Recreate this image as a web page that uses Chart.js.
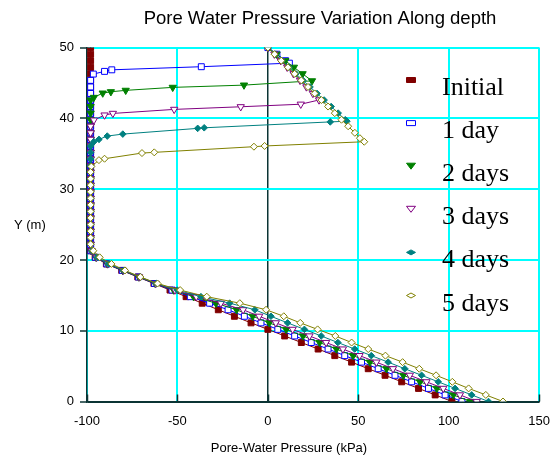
<!DOCTYPE html>
<html>
<head>
<meta charset="utf-8">
<title>Pore Water Pressure Variation Along depth</title>
<script src="https://cdn.jsdelivr.net/npm/chart.js@4.4.1/dist/chart.umd.min.js"></script>
<style>
  html, body { margin: 0; padding: 0; background: #fff; }
  #wrap { width: 554px; height: 457px; }
</style>
</head>
<body>
<div id="wrap"><canvas id="pwp-chart" width="554" height="457"></canvas></div>
<script>
// elevations (m) of the mesh nodes in the column
const elevWall = [50, 49.07, 48.15, 47.22, 46.30, 45.37, 44.44, 43.52, 42.59, 41.67, 40.74,
  39.81, 38.89, 37.96, 37.04, 36.11, 35.19, 34.26, 33.33, 32.41, 31.48, 30.56, 29.63,
  28.70, 27.78, 26.85, 25.93, 25.00, 24.07, 23.15, 22.22];
const elevLower = [0, 0.93, 1.85, 2.78, 3.70, 4.63, 5.56, 6.48, 7.41, 8.33, 9.26, 10.19,
  11.11, 12.04, 12.96, 13.89, 14.81, 15.74, 16.67, 17.59, 18.52, 19.44, 20.37, 21.30];

// suction limit above the wetting front (kPa)
const suction = -98;

const seriesNames = ["Initial", "1 day", "2 days", "3 days", "4 days", "5 days"];

// wetting front: [pressure kPa, elevation m], top down
const initialFront = [];
const day1Front = [[0, 50], [5, 49.07], [9.8, 48.15], [11.9, 47.8], [-36.8, 47.3],
  [-86.3, 46.86], [-90.3, 46.64], [-96.5, 46.26]];
const day2Front = [[0, 50], [4.8, 49.07], [9.6, 48.15], [14.4, 47.22], [19.2, 46.3],
  [24.4, 45.3], [-13.2, 44.7], [-52.6, 44.38], [-78.6, 43.96], [-86.8, 43.76],
  [-91.3, 43.57], [-96.2, 42.96]];
const day3Front = [[0, 50], [3.6, 49.07], [7.1, 48.15], [10.7, 47.22], [14.2, 46.3],
  [17.8, 45.37], [21.3, 44.44], [24.9, 43.52], [28.3, 42.6], [18.2, 42.0], [-15, 41.64],
  [-51.8, 41.27], [-85.7, 40.7], [-90.3, 40.47], [-96.2, 39.76]];
const day4Front = [[0, 50], [3.9, 49.07], [7.8, 48.15], [11.7, 47.22], [15.5, 46.3],
  [19.4, 45.37], [23.3, 44.44], [27.2, 43.52], [31.1, 42.59], [35, 41.67], [38.9, 40.74],
  [42.8, 39.81], [43.7, 39.6], [34.5, 39.5], [-35.2, 38.67], [-38.8, 38.59],
  [-80.2, 37.78], [-88.8, 37.5], [-93.4, 37.03], [-96.2, 36.7]];
const day5Front = [[0, 50], [3.7, 49.07], [7.4, 48.15], [11.1, 47.22], [14.8, 46.3],
  [18.5, 45.37], [22.2, 44.44], [25.9, 43.52], [29.6, 42.59], [33.3, 41.67], [37, 40.74],
  [40.7, 39.81], [44.4, 38.89], [48.1, 37.96], [50.9, 37.2], [53.3, 36.7], [-1.8, 36.1],
  [-7.7, 36.0], [-62.8, 35.2], [-69.6, 35.1], [-90.3, 34.3], [-93.4, 34.1], [-97.6, 33.2]];

// pressures (kPa) at elevLower
const initialLower = [101.8, 92.5, 83.3, 74.0, 64.8, 55.5, 46.3, 37.0, 27.8, 18.5, 9.3, 0.0,
  -9.3, -18.5, -27.4, -36.3, -45.2, -54.1, -63.0, -71.9, -80.8, -89.3, -95.5, -98];
const day1Lower = [107.3, 98.0, 88.8, 79.5, 70.3, 61.0, 51.8, 42.5, 33.3, 24.0, 14.8, 5.5,
  -3.8, -13.0, -22.0, -32.2, -42.9, -53.0, -62.6, -71.6, -80.5, -89.0, -95.2, -97.8];
const day2Lower = [111.9, 102.6, 93.4, 84.1, 74.9, 65.6, 56.4, 47.1, 37.9, 28.6, 19.4, 10.1,
  0.8, -8.4, -17.3, -28.7, -41.1, -52.1, -62.3, -71.4, -80.3, -88.8, -95.0, -97.7];
const day3Lower = [115.5, 106.2, 97.0, 87.7, 78.5, 69.2, 60.0, 50.7, 41.5, 32.2, 23.0, 13.7,
  4.4, -4.8, -13.7, -26.0, -39.6, -51.4, -62.0, -71.1, -80.0, -88.5, -94.7, -97.5];
const day4Lower = [122.0, 112.7, 103.5, 94.2, 85.0, 75.7, 66.5, 57.2, 48.0, 38.7, 29.5, 20.2,
  10.9, 1.7, -7.2, -21.1, -37.0, -50.1, -61.6, -70.7, -79.6, -88.1, -94.3, -97.2];
const day5Lower = [130.0, 120.5, 111.0, 102.0, 93.0, 83.7, 74.5, 65.0, 55.5, 46.3, 37.3, 27.5,
  17.9, 8.8, -1.0, -15.5, -33.8, -48.5, -61.0, -70.5, -79.0, -86.5, -93.0, -96.5];

const xTicks = [-100, -50, 0, 50, 100, 150];
const yTicks = [0, 10, 20, 30, 40, 50];

const colors = ["#800000", "#0000ff", "#008000", "#800080", "#008080", "#808000"];
const markers = [
  { style: "rect", rot: 0, r: 4.2, filled: true },
  { style: "rect", rot: 0, r: 4.2, filled: false },
  { style: "triangle", rot: 180, r: 4.2, filled: true },
  { style: "triangle", rot: 180, r: 4.2, filled: false },
  { style: "rectRot", rot: 0, r: 3.3, filled: true },
  { style: "rectRot", rot: 0, r: 3.5, filled: false },
];

const gridCyan = "#00ffff";
const axisDark = "#0b3434";

// front, then the suction wall, then the lower profile down to the base
const toPoints = (front, lower) => {
  const lastY = front.length ? front[front.length - 1][1] : Infinity;
  const pts = front.map(([x, y]) => ({ x: x, y: y }));
  elevWall.filter((y) => y < lastY).forEach((y) => pts.push({ x: suction, y: y }));
  for (let i = lower.length - 1; i >= 0; i--) {
    pts.push({ x: lower[i], y: elevLower[i] });
  }
  return pts;
};

const fronts = [initialFront, day1Front, day2Front, day3Front, day4Front, day5Front];
const lowers = [initialLower, day1Lower, day2Lower, day3Lower, day4Lower, day5Lower];

const datasets = seriesNames.map((name, i) => ({
  label: name,
  data: toPoints(fronts[i], lowers[i]),
  showLine: true,
  borderColor: colors[i],
  borderWidth: 1,
  tension: 0,
  pointStyle: markers[i].style,
  rotation: markers[i].rot,
  pointRadius: markers[i].r,
  pointBorderWidth: 1,
  pointBorderColor: colors[i],
  pointBackgroundColor: markers[i].filled ? colors[i] : "#ffffff",
  order: seriesNames.length - i,
}));

const drawLegendMarker = (ctx, i, x, y) => {
  const m = markers[i];
  ctx.save();
  ctx.beginPath();
  if (m.style === "rect") {
    ctx.rect(x - 4.5, y - 2.5, 9, 5);
  } else if (m.style === "triangle") {
    ctx.moveTo(x - 4.5, y - 3);
    ctx.lineTo(x + 4.5, y - 3);
    ctx.lineTo(x, y + 3);
    ctx.closePath();
  } else {
    ctx.moveTo(x - 4.5, y);
    ctx.lineTo(x, y - 2.5);
    ctx.lineTo(x + 4.5, y);
    ctx.lineTo(x, y + 2.5);
    ctx.closePath();
  }
  ctx.fillStyle = m.filled ? colors[i] : "#ffffff";
  ctx.fill();
  ctx.strokeStyle = colors[i];
  ctx.lineWidth = 1;
  ctx.stroke();
  ctx.restore();
};

const chartText = {
  id: "chartText",
  beforeDatasetsDraw(chart) {
    // short inward tick marks on the bottom axis
    const ctx = chart.ctx;
    const xs = chart.scales.x;
    const bottom = chart.chartArea.bottom;
    ctx.save();
    ctx.strokeStyle = axisDark;
    ctx.lineWidth = 1.5;
    xTicks.forEach((v) => {
      const px = Math.round(xs.getPixelForValue(v)) + 0.5;
      ctx.beginPath();
      ctx.moveTo(px, bottom - 7);
      ctx.lineTo(px, bottom);
      ctx.stroke();
    });
    ctx.restore();
  },
  afterDraw(chart) {
    const ctx = chart.ctx;
    ctx.save();
    ctx.fillStyle = "#000";
    ctx.textBaseline = "alphabetic";

    ctx.font = '18.5px "Liberation Sans", Arial, sans-serif';
    ctx.textAlign = "center";
    ctx.fillText("Pore Water Pressure Variation Along depth", 320, 24);

    ctx.font = '13px "Liberation Sans", Arial, sans-serif';
    ctx.fillText("Pore-Water Pressure (kPa)", 289, 452);
    ctx.textAlign = "left";
    ctx.fillText("Y (m)", 14, 229);

    // legend inside the plot, right side
    ctx.font = '26px "Liberation Serif", "Times New Roman", serif';
    seriesNames.forEach((name, i) => {
      const base = 95 + i * 43.1;
      drawLegendMarker(ctx, i, 411, base - 15);
      ctx.fillStyle = "#000";
      ctx.fillText(name, 442, base);
    });
    ctx.restore();
  },
};

const ctx = document.querySelector("#pwp-chart");

const config = {
  type: "scatter",
  data: { datasets: datasets },
  options: {
    responsive: false,
    animation: false,
    events: [],
    layout: { padding: { top: 47.6, right: 12, bottom: 0, left: 0 } },
    plugins: {
      legend: { display: false },
      title: { display: false },
      tooltip: { enabled: false },
    },
    scales: {
      x: {
        type: "linear",
        min: -100,
        max: 150,
        afterBuildTicks: (scale) => {
          scale.ticks = xTicks.map((v) => ({ value: v }));
        },
        ticks: {
          padding: 4,
          color: "#000",
          maxRotation: 0,
          font: { family: '"Liberation Sans", Arial, sans-serif', size: 13 },
        },
        grid: {
          color: (c) => (c.tick && c.tick.value === 0 ? axisDark : gridCyan),
          lineWidth: (c) => (c.tick && c.tick.value === 0 ? 1.5 : 2),
          tickLength: 8,
          tickColor: "rgba(0,0,0,0)",
        },
        border: { color: axisDark, width: 1.5 },
        afterFit: (scale) => {
          scale.height = 55.5;
        },
      },
      y: {
        type: "linear",
        min: 0,
        max: 50,
        afterBuildTicks: (scale) => {
          scale.ticks = yTicks.map((v) => ({ value: v }));
        },
        ticks: {
          padding: 6,
          color: "#000",
          font: { family: '"Liberation Sans", Arial, sans-serif', size: 13 },
        },
        grid: {
          color: (c) => (c.tick && c.tick.value === 0 ? axisDark : gridCyan),
          lineWidth: 2,
          tickLength: 7,
          tickWidth: 1.5,
          tickColor: axisDark,
        },
        border: { color: axisDark, width: 1.5 },
        afterFit: (scale) => {
          scale.width = 87;
        },
      },
    },
  },
  plugins: [chartText],
};

let pwpChart = new Chart(ctx, config);
</script>
</body>
</html>
